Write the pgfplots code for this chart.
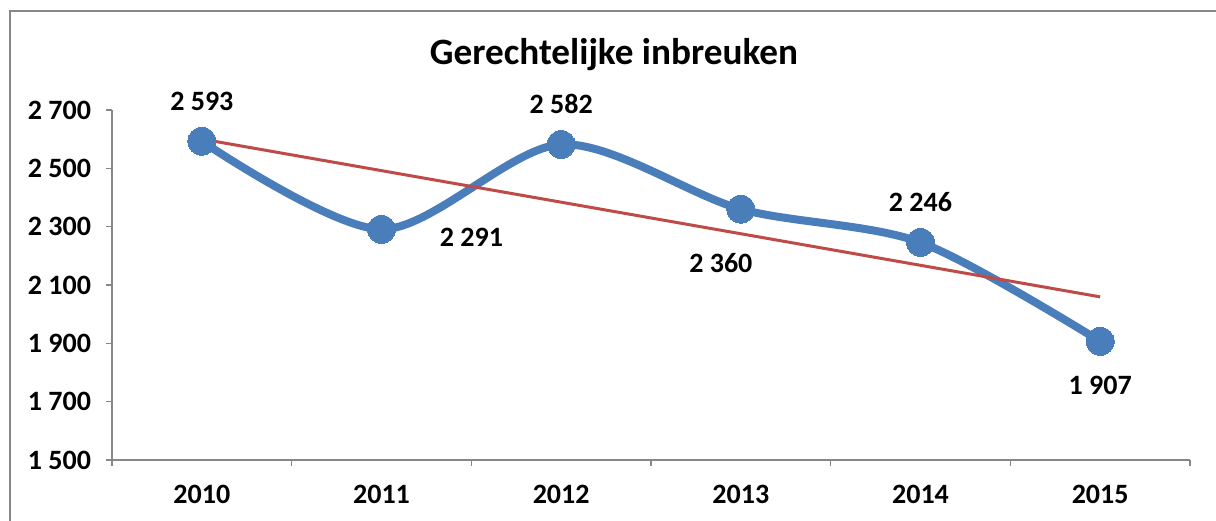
\documentclass[border=0pt]{standalone}
\usepackage{pgfplots}
\pgfplotsset{compat=1.18}
\usepackage{fontspec}
\setmainfont{Carlito}
\definecolor{exblue}{HTML}{4A7EBB}
\definecolor{exred}{HTML}{BE4B48}
\definecolor{axgrey}{HTML}{878787}
\begin{document}
\begin{tikzpicture}[x=1pt,y=1pt]
\useasboundingbox (-56,-30) rectangle (552,230);
\draw[axgrey,line width=1pt] (-51,-31) -- (-51,224.5) -- (553,224.5);
\node[font=\fontsize{18.6}{22}\selectfont\bfseries,anchor=base] at (251,197.5) {Gerechtelijke inbreuken};
\begin{axis}[
  at={(0,0)}, anchor=south west,
  scale only axis, width=539pt, height=175pt,
  xmin=-0.5, xmax=5.5, ymin=1500, ymax=2700,
  axis x line=bottom, axis y line=left,
  axis line style={axgrey,line width=0.8pt,-},
  xtick={0,1,2,3,4,5},
  xticklabels={2010,2011,2012,2013,2014,2015},
  major x tick style={draw=none},
  minor xtick={-0.5,0.5,1.5,2.5,3.5,4.5,5.5},
  minor x tick style={axgrey,line width=0.8pt},
  minor tick length=3pt,
  ytick={1500,1700,1900,2100,2300,2500,2700},
  y tick style={axgrey,line width=0.8pt},
  major tick length=3pt,
  tick align=outside,
  /pgf/number format/assume math mode=true,
  /pgf/number format/1000 sep={\ },
  ticklabel style={font=\fontsize{14}{16}\selectfont\bfseries},
  xticklabel style={yshift=-6pt},
  yticklabel style={xshift=-4pt},
  clip=false,
]
\addplot[exblue, line width=4pt, smooth, mark=*, mark size=7pt, mark options={fill=exblue,draw=exblue,line width=0pt}]
  coordinates {(0,2593) (1,2291) (2,2582) (3,2360) (4,2246) (5,1907)};
\addplot[exred, line width=1.5pt] coordinates {(0,2600.3) (5,2059.3)};
% data labels
\pgfplotsset{lbl/.style={draw=none, mark=none, nodes near coords, point meta=explicit symbolic,
  every node near coord/.append style={font=\fontsize{14}{16}\selectfont\bfseries, anchor=center, #1}}}
\addplot[lbl={yshift=20pt}] coordinates {(0,2593) [2 593] (2,2582) [2 582] (4,2246) [2 246]};
\addplot[lbl={xshift=45pt,yshift=-4pt}] coordinates {(1,2291) [2 291]};
\addplot[lbl={xshift=-10pt,yshift=-27pt}] coordinates {(3,2360) [2 360]};
\addplot[lbl={yshift=-22pt}] coordinates {(5,1907) [1 907]};
\end{axis}
\end{tikzpicture}
\end{document}
